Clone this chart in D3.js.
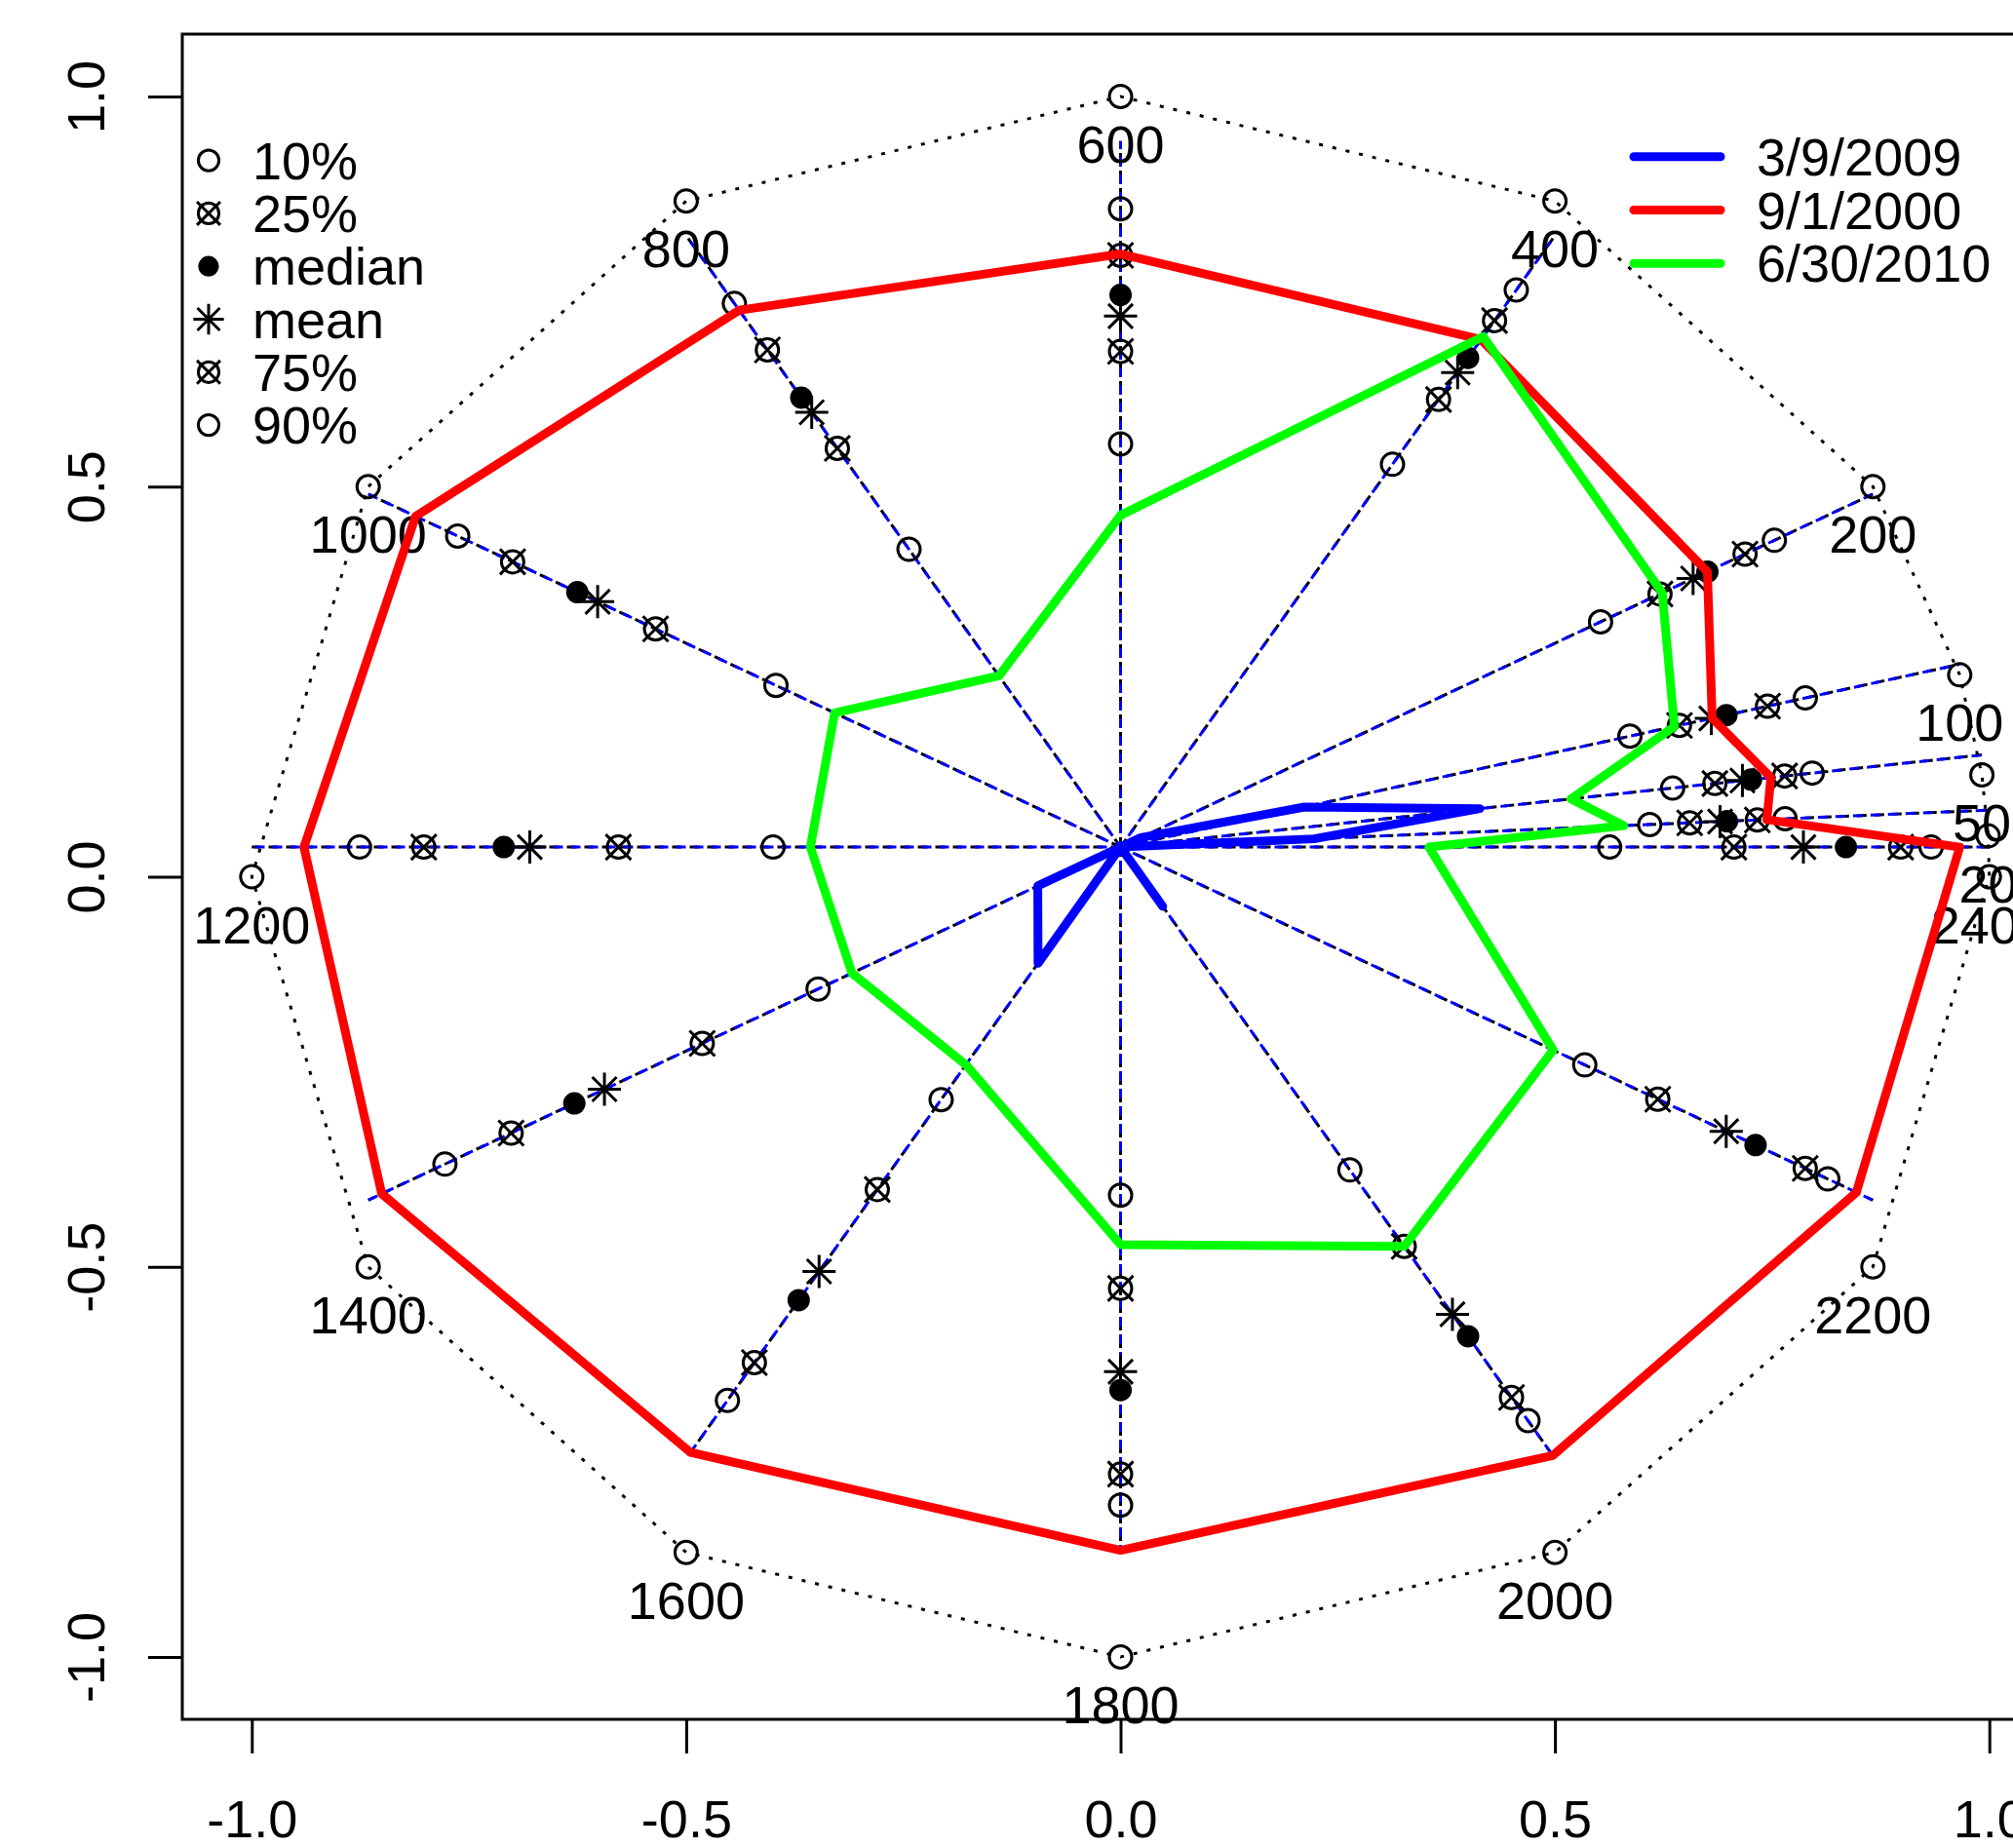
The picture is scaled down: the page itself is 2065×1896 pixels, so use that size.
<!DOCTYPE html>
<html lang="en">
<head>
<meta charset="UTF-8" />
<script src="https://cdnjs.cloudflare.com/ajax/libs/d3/7.8.5/d3.min.js"></script>
<title>Clock plot</title>
<style>body{margin:0;background:#fff}</style>
</head>
<body>
<script type="text/javascript">
var width = 2065;
var height = 1896;

// time of day categories (hhmm) and the radial stats
var hours = [20, 50, 100, 200, 400, 600, 800, 1000, 1200, 1400, 1600, 1800, 2000, 2200, 2400];
var p10  = [0.610, 0.641, 0.607, 0.638, 0.626, 0.571, 0.487, 0.458, 0.400, 0.402, 0.413, 0.493, 0.528, 0.617, 0.563];
var p25  = [0.656, 0.690, 0.666, 0.717, 0.732, 0.702, 0.652, 0.618, 0.578, 0.556, 0.560, 0.625, 0.653, 0.714, 0.706];
var med  = [0.699, 0.732, 0.722, 0.780, 0.800, 0.782, 0.735, 0.722, 0.710, 0.726, 0.741, 0.769, 0.800, 0.844, 0.835];
var avg  = [0.691, 0.722, 0.704, 0.761, 0.776, 0.752, 0.711, 0.695, 0.680, 0.686, 0.694, 0.743, 0.764, 0.805, 0.786];
var p75  = [0.734, 0.771, 0.771, 0.830, 0.861, 0.838, 0.813, 0.808, 0.802, 0.810, 0.843, 0.888, 0.900, 0.910, 0.898];
var p90  = [0.766, 0.803, 0.816, 0.869, 0.911, 0.904, 0.889, 0.881, 0.876, 0.898, 0.905, 0.932, 0.938, 0.940, 0.933];

var dates = ["3/9/2009", "9/1/2000", "6/30/2010"];
var day1 = [0.223, 0.417, 0.219, 0.027, 0, 0, 0, 0, 0, 0.110, 0.190, 0, 0.097, 0, 0];
var day2 = [0.745, 0.755, 0.705, 0.780, 0.830, 0.840, 0.878, 0.937, 0.940, 0.982, 0.990, 0.996, 0.995, 0.978, 0.966];
var day3 = [0.580, 0.523, 0.660, 0.720, 0.835, 0.470, 0.280, 0.380, 0.357, 0.357, 0.356, 0.563, 0.653, 0.575, 0.355];
var dayColors = ["#0000ff", "#ff0000", "#00ff00"];

var statNames = ["10%", "25%", "median", "mean", "75%", "90%"];
var ticks = [-1, -0.5, 0, 0.5, 1];

var svg = d3.select("body").append("svg")
  .attr("width", width).attr("height", height)
  .style("font-family", "'Liberation Sans', Arial, Helvetica, sans-serif");

var x = d3.scaleLinear().domain([-1.08, 1.08]).range([187, 2112]);
var y = d3.scaleLinear().domain([-1.08, 1.08]).range([1764, 35]);
// spokes start a bit above the origin and are squashed vertically
var cy = 0.038, k = 0.905;
var yr = d3.scaleLinear().domain([-1, 1]).range([y(cy - k), y(cy + k)]);

function ang(h) { return h / 2400 * 2 * Math.PI; }
function pt(h, r) { return [x(r * Math.cos(ang(h))), yr(r * Math.sin(ang(h)))]; }
function ring(h) { return [x(Math.cos(ang(h))), y(Math.sin(ang(h)))]; }

// frame
svg.append("rect").attr("x", 187).attr("y", 35).attr("width", 1925).attr("height", 1729)
  .attr("fill", "none").attr("stroke", "#000").attr("stroke-width", 3);

// axes
var xa = svg.append("g").attr("transform", "translate(0,1764)")
  .call(d3.axisBottom(x).tickValues(ticks).tickSize(35).tickFormat(function(d){ return d.toFixed(1); }));
xa.select(".domain").remove();
xa.selectAll("line").attr("stroke-width", 3);
xa.selectAll("text").attr("y", 121).attr("dy", null).attr("font-size", 54).attr("fill", "#000").attr("font-family", null);

var ya = svg.append("g").attr("transform", "translate(187,0)")
  .call(d3.axisLeft(y).tickValues(ticks).tickSize(35).tickFormat(function(d){ return d.toFixed(1); }));
ya.select(".domain").remove();
ya.selectAll("line").attr("stroke-width", 3);
ya.selectAll("text").attr("x", 0).attr("y", -80).attr("dy", null)
  .attr("transform", "rotate(-90)").attr("text-anchor", "middle")
  .attr("font-size", 54).attr("fill", "#000").attr("font-family", null);

// spokes: black dashes with blue dashes laid over, slightly out of phase
var spokes = svg.append("g");
spokes.selectAll(".sk").data(hours).join("line").attr("class", "sk")
  .attr("x1", function(d){ return pt(d, 0)[0]; }).attr("y1", function(d){ return pt(d, 0)[1]; })
  .attr("x2", function(d){ return pt(d, 1)[0]; }).attr("y2", function(d){ return pt(d, 1)[1]; })
  .attr("stroke", "#000").attr("stroke-width", 3).attr("stroke-dasharray", "10,8");
spokes.selectAll(".sb").data(hours).join("line").attr("class", "sb")
  .attr("x1", function(d){ return pt(d, 0)[0]; }).attr("y1", function(d){ return pt(d, 0)[1]; })
  .attr("x2", function(d){ return pt(d, 1)[0]; }).attr("y2", function(d){ return pt(d, 1)[1]; })
  .attr("stroke", "#0000ff").attr("stroke-width", 3).attr("stroke-dasharray", "10,8").attr("stroke-dashoffset", 4);

// outer dotted ring
svg.append("path").attr("d", d3.line().curve(d3.curveLinearClosed)(hours.map(ring)))
  .attr("fill", "none").attr("stroke", "#000").attr("stroke-width", 3).attr("stroke-dasharray", "4,10");

// markers
function circleMark(g, s) {
  g.append("circle").attr("r", 11.5 * s).attr("fill", "none").attr("stroke", "#000").attr("stroke-width", 3);
}
function crossMark(g, s) {
  circleMark(g, s);
  var a = 13 * s;
  g.append("path").attr("d", "M" + (-a) + "," + (-a) + "L" + a + "," + a + "M" + (-a) + "," + a + "L" + a + "," + (-a))
    .attr("stroke", "#000").attr("stroke-width", 3);
}
function dotMark(g, s) {
  g.append("circle").attr("r", 11.5 * s).attr("fill", "#000");
}
function starMark(g, s) {
  var a = 17 * s, b = 12.5 * s;
  g.append("path").attr("d", "M" + (-a) + ",0L" + a + ",0M0," + (-a) + "L0," + a +
      "M" + (-b) + "," + (-b) + "L" + b + "," + b + "M" + (-b) + "," + b + "L" + b + "," + (-b))
    .attr("stroke", "#000").attr("stroke-width", 3);
}
var statVals = [p10, p25, med, avg, p75, p90];
var statMarks = [circleMark, crossMark, dotMark, starMark, crossMark, circleMark];

hours.forEach(function(h) {
  var p = ring(h);
  circleMark(svg.append("g").attr("transform", "translate(" + p[0] + "," + p[1] + ")"), 1);
});

statVals.forEach(function(vals, si) {
  hours.forEach(function(h, i) {
    var p = pt(h, vals[i]);
    statMarks[si](svg.append("g").attr("transform", "translate(" + p[0] + "," + p[1] + ")"), 1);
  });
});

// hour labels below the ring points
svg.append("g").selectAll("text").data(hours).join("text")
  .attr("x", function(d){ return ring(d)[0]; })
  .attr("y", function(d){ return ring(d)[1] + 68; })
  .attr("text-anchor", "middle").attr("font-size", 54)
  .text(function(d){ return d; });

// day profiles
var line = d3.line().curve(d3.curveLinearClosed);
[day1, day2, day3].forEach(function(vals, j) {
  svg.append("path")
    .attr("d", line(hours.map(function(h, i){ return pt(h, vals[i]); })))
    .attr("fill", "none").attr("stroke", dayColors[j]).attr("stroke-width", 9)
    .attr("stroke-linejoin", "round").attr("stroke-linecap", "round");
});

// legend: stats
var lg = svg.append("g");
statNames.forEach(function(n, i) {
  var yy = 164.6 + 54.3 * i;
  statMarks[i](lg.append("g").attr("transform", "translate(214," + yy + ")"), 0.92);
  lg.append("text").attr("x", 259).attr("y", yy + 19).attr("font-size", 54).text(n);
});

// legend: dates
dates.forEach(function(n, i) {
  var yy = 160.7 + 54.8 * i;
  lg.append("line").attr("x1", 1676).attr("x2", 1765).attr("y1", yy).attr("y2", yy)
    .attr("stroke", dayColors[i]).attr("stroke-width", 9).attr("stroke-linecap", "round");
  lg.append("text").attr("x", 1802).attr("y", yy + 19).attr("font-size", 54).text(n);
});
</script>
</body>
</html>
